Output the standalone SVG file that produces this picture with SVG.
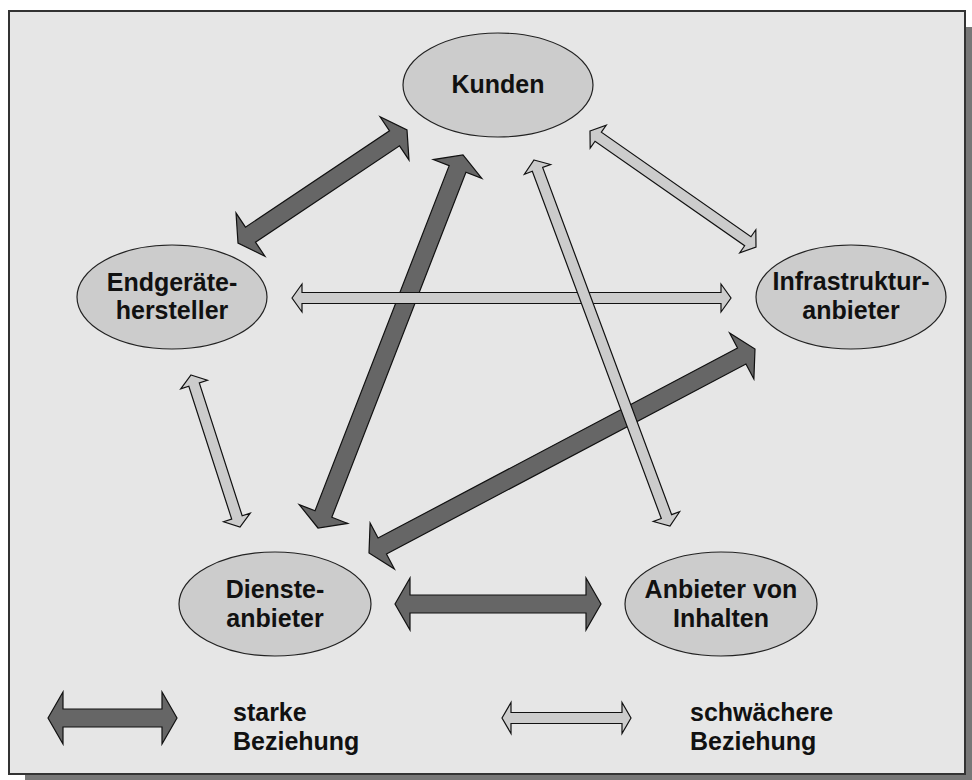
<svg xmlns="http://www.w3.org/2000/svg" width="972" height="780" viewBox="0 0 972 780">
  <style>
    .node { fill: #cccccc; stroke: #222222; stroke-width: 1.2; }
    .lbl { font-family: "Liberation Sans", Arial, sans-serif; font-weight: bold; font-size: 25px; fill: #111111; text-anchor: middle; }
    .leg { font-family: "Liberation Sans", Arial, sans-serif; font-weight: bold; font-size: 25px; fill: #111111; }
    .strong { fill: #666666; stroke: #111111; stroke-width: 1.2; stroke-linejoin: miter; }
    .weak { fill: #cccccc; stroke: #111111; stroke-width: 1.2; stroke-linejoin: miter; }
  </style>

  <g id="frame">
    <rect x="25" y="27" width="956" height="763" fill="#777777"/>
    <rect x="9" y="11" width="956" height="763" fill="#e6e6e6" stroke="#333333" stroke-width="2"/>
  </g>

  <g id="connectors">
    <!-- strong: Endgeraete - Kunden -->
    <polygon class="strong" transform="translate(238,243) rotate(-33.77)" points="0,0 15,-26 15,-9 188.3,-9 188.3,-26 203.3,0 188.3,26 188.3,9 15,9 15,26"/>
    <!-- strong: Dienste - Kunden -->
    <polygon class="strong" transform="translate(318,528) rotate(-68.76)" points="0,0 15,-26 15,-9 385.2,-9 385.2,-26 400.2,0 385.2,26 385.2,9 15,9 15,26"/>
    <!-- strong: Dienste - Infrastruktur -->
    <polygon class="strong" transform="translate(369,553) rotate(-27.86)" points="0,0 15,-26 15,-9 421.6,-9 421.6,-26 436.6,0 421.6,26 421.6,9 15,9 15,26"/>
    <!-- strong: Dienste - Anbieter -->
    <polygon class="strong" transform="translate(395,604)" points="0,0 15,-26 15,-9 191,-9 191,-26 206,0 191,26 191,9 15,9 15,26"/>
    <!-- weak: Kunden - Infrastruktur -->
    <polygon class="weak" transform="translate(590,131) rotate(34.94)" points="0,0 10,-14 10,-5.5 192.5,-5.5 192.5,-14 202.5,0 192.5,14 192.5,5.5 10,5.5 10,14"/>
    <!-- weak: Endgeraete - Infrastruktur -->
    <polygon class="weak" transform="translate(292,298)" points="0,0 10,-14 10,-5.5 429,-5.5 429,-14 439,0 429,14 429,5.5 10,5.5 10,14"/>
    <!-- weak: Kunden - Anbieter -->
    <polygon class="weak" transform="translate(534,160) rotate(69.62)" points="0,0 10,-14 10,-5.5 380.4,-5.5 380.4,-14 390.4,0 380.4,14 380.4,5.5 10,5.5 10,14"/>
    <!-- weak: Endgeraete - Dienste -->
    <polygon class="weak" transform="translate(191,375) rotate(72.13)" points="0,0 10,-14 10,-5.5 149.7,-5.5 149.7,-14 159.7,0 149.7,14 149.7,5.5 10,5.5 10,14"/>
  </g>

  <g id="kunden">
    <ellipse class="node" cx="498" cy="85" rx="95" ry="52"/>
    <text class="lbl" x="498" y="93">Kunden</text>
  </g>
  <g id="endgeraete">
    <ellipse class="node" cx="172" cy="297" rx="95" ry="52"/>
    <text class="lbl" x="172" y="291">Endgeräte-</text>
    <text class="lbl" x="172" y="319">hersteller</text>
  </g>
  <g id="infrastruktur">
    <ellipse class="node" cx="851" cy="297" rx="95" ry="52"/>
    <text class="lbl" x="851" y="290">Infrastruktur-</text>
    <text class="lbl" x="851" y="319">anbieter</text>
  </g>
  <g id="dienste">
    <ellipse class="node" cx="275" cy="604" rx="96" ry="52"/>
    <text class="lbl" x="275" y="598">Dienste-</text>
    <text class="lbl" x="275" y="627">anbieter</text>
  </g>
  <g id="inhalte">
    <ellipse class="node" cx="721" cy="604" rx="96" ry="52"/>
    <text class="lbl" x="721" y="598">Anbieter von</text>
    <text class="lbl" x="721" y="627">Inhalten</text>
  </g>

  <g id="legend">
    <polygon class="strong" transform="translate(48,718)" points="0,0 15,-26 15,-9 114,-9 114,-26 129,0 114,26 114,9 15,9 15,26"/>
    <text class="leg" x="233" y="721">starke</text>
    <text class="leg" x="233" y="750">Beziehung</text>
    <polygon class="weak" transform="translate(502,718)" points="0,0 9,-15.5 9,-5.5 120,-5.5 120,-15.5 129,0 120,15.5 120,5.5 9,5.5 9,15.5"/>
    <text class="leg" x="690" y="721">schwächere</text>
    <text class="leg" x="690" y="750">Beziehung</text>
  </g>
</svg>
